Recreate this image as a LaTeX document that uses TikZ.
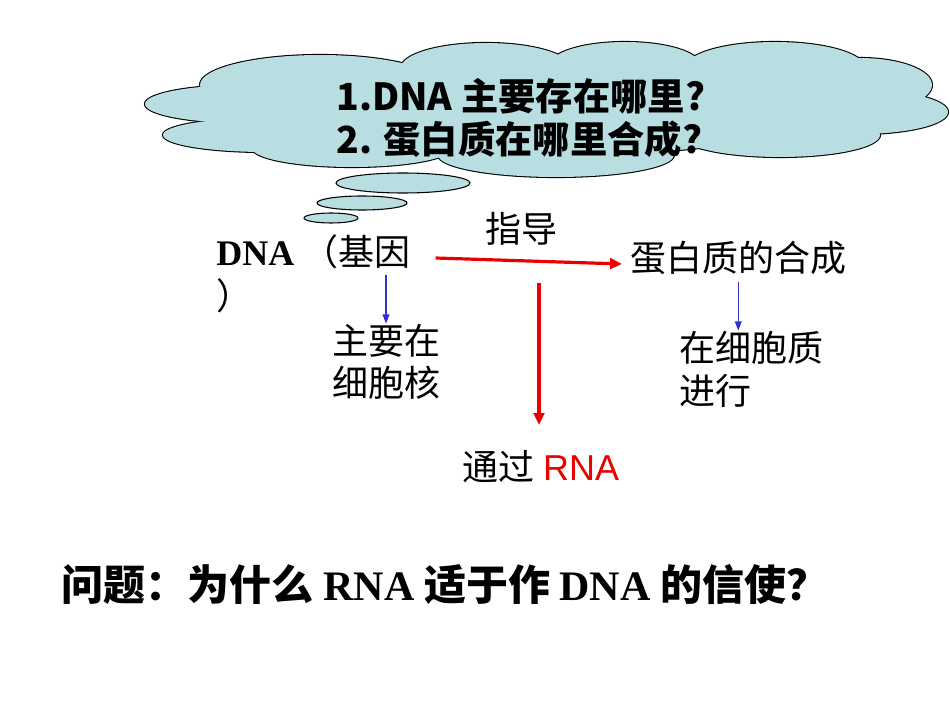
\documentclass[tikz,border=0pt]{standalone}
\usepackage{fontspec}
\setmainfont{Liberation Serif}
\newfontfamily\cjk{Noto Sans CJK SC}
\newfontfamily\arialfont{Liberation Sans}
\usepackage{tikz}
\usetikzlibrary{arrows.meta, positioning, calc}
\definecolor{cloudfill}{RGB}{184,222,226}
\definecolor{arrowred}{RGB}{235,0,0}
\definecolor{arrowblue}{RGB}{51,51,204}

\begin{document}
\begin{tikzpicture}[x=0.75pt, y=-0.75pt,
    lbl/.style={font=\cjk\fontsize{27}{32}\selectfont, inner sep=0pt, align=left},
    redarrow/.style={draw=arrowred, line width=2.4pt, -{Triangle[length=9pt, width=8pt]}},
    bluearrow/.style={draw=arrowblue, line width=1.1pt, -{Triangle[length=7pt, width=5pt]}}]
    \useasboundingbox (0,0) rectangle (950,713);
    \foreach \cx/\cy/\rx/\ry in {245/104/100/19, 265/135/102/17, 320/85/120/30,
        486/68/85/25, 625/65/75/23, 775/68/90/26, 860/85/72/27, 860/112/88/22,
        780/135/100/22, 556/155/118/22, 352/148/100/19, 550/110/280/45}
      \draw[line width=1.6pt] (\cx,\cy) ellipse [x radius=\rx, y radius=\ry];
    \foreach \cx/\cy/\rx/\ry in {245/104/100/19, 265/135/102/17, 320/85/120/30,
        486/68/85/25, 625/65/75/23, 775/68/90/26, 860/85/72/27, 860/112/88/22,
        780/135/100/22, 556/155/118/22, 352/148/100/19, 550/110/280/45}
      \fill[cloudfill] (\cx,\cy) ellipse [x radius=\rx, y radius=\ry];
    \draw[fill=cloudfill, line width=0.8pt] (403,183) ellipse [x radius=67, y radius=10];
    \draw[fill=cloudfill, line width=0.8pt] (362,203) ellipse [x radius=45, y radius=7];
    \draw[fill=cloudfill, line width=0.8pt] (331,218) ellipse [x radius=27, y radius=5];
    \node[font=\cjk\bfseries\fontsize{28}{32}\selectfont, align=left, anchor=west, inner sep=0pt]
      (qs) at (336,118) {1.DNA 主要存在哪里?\\2. 蛋白质在哪里合成?};

    \node[lbl, anchor=west] (dna) at (216,252) {{\rmfamily\bfseries DNA} （基因};
    \node[lbl, anchor=west] (paren) at (216,296) {）};
    \node[lbl] (guide) at (521,229) {指导};
    \node[lbl, anchor=west] (protein) at (630,258) {蛋白质的合成};
    \node[lbl] (nucleus) at (386,362) {主要在\\细胞核};
    \node[lbl] (cyto) at (751,369) {在细胞质\\进行};
    \node[lbl] (rna) at (541,467) {通过 {\arialfont\color{arrowred}RNA}};
    \node[font=\cjk\bfseries\fontsize{31.5}{36}\selectfont, inner sep=0pt] (question) at (445,585)
      {问题：为什么 {\rmfamily\bfseries RNA} 适于作 {\rmfamily\bfseries DNA} 的信使？};

    \coordinate (split) at (539,283);
    \draw[redarrow] ([shift={(25,6)}]dna.east) -- ([shift={(-8,6)}]protein.west);
    \draw[redarrow, shorten >=19pt] (split) -- (split |- rna.north);
    \draw[bluearrow] ([yshift=-4pt]nucleus.north |- dna.south) -- (nucleus.north);
    \draw[bluearrow] ([yshift=-5pt]protein.south) -- (protein.south |- cyto.north);
\end{tikzpicture}
\end{document}
